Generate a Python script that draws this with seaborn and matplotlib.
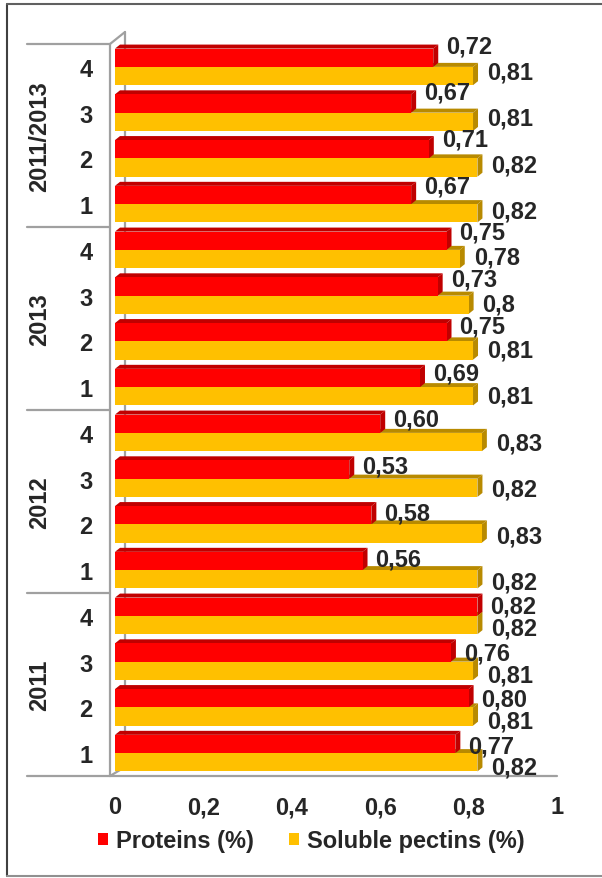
import numpy as np
import pandas as pd
import matplotlib
matplotlib.use("Agg")
import matplotlib.pyplot as plt
import matplotlib.transforms as mtransforms
from matplotlib.patches import Polygon, Patch
from matplotlib.lines import Line2D
import seaborn as sns

# data, bottom to top as in the chart
groups = ["2011", "2012", "2013", "2011/2013"]
samples = ["1", "2", "3", "4"]
proteins = [0.77, 0.80, 0.76, 0.82,
            0.56, 0.58, 0.53, 0.60,
            0.69, 0.75, 0.73, 0.75,
            0.67, 0.71, 0.67, 0.72]
pectins = [0.82, 0.81, 0.81, 0.82,
           0.82, 0.83, 0.82, 0.83,
           0.81, 0.81, 0.80, 0.78,
           0.82, 0.82, 0.81, 0.81]
protein_labels = ["0,77", "0,80", "0,76", "0,82",
                  "0,56", "0,58", "0,53", "0,60",
                  "0,69", "0,75", "0,73", "0,75",
                  "0,67", "0,71", "0,67", "0,72"]
pectin_labels = ["0,82", "0,81", "0,81", "0,82",
                 "0,82", "0,83", "0,82", "0,83",
                 "0,81", "0,81", "0,8", "0,78",
                 "0,82", "0,82", "0,81", "0,81"]
series = ["Proteins (%)", "Soluble pectins (%)"]
xticks = [0, 0.2, 0.4, 0.6, 0.8, 1]
xtick_labels = ["0", "0,2", "0,4", "0,6", "0,8", "1"]

red, red_dark = "#FF0000", "#C00000"
gold, gold_dark = "#FFC000", "#B88A00"
grey = "#A0A0A0"

sns.set_style("white")
plt.rcParams["font.family"] = ["Liberation Sans", "DejaVu Sans"]
plt.rcParams["font.weight"] = "bold"
FS = 17

rows = [f"{g}|{s}" for g in groups for s in samples]
df = pd.DataFrame({
    "row": rows * 2,
    "series": [series[0]] * 16 + [series[1]] * 16,
    "value": proteins + pectins,
})
order = rows[::-1]  # top to bottom

W, H = 602, 879
fig = plt.figure(figsize=(W / 100, H / 100), dpi=100)
L, R, T, B = 115, 557, 45, 777
ax = fig.add_axes([L / W, 1 - B / H, (R - L) / W, (B - T) / H])

sns.barplot(data=df, y="row", x="value", hue="series", order=order,
            hue_order=series, palette=[red, gold], orient="h", width=0.8,
            saturation=1, legend=False, ax=ax)
ax.set_xlim(0, 1)
ax.set_ylim(15.5, -0.5)

# 3d look: top and side faces
px_x = 1 / (R - L)
px_y = 16 / (B - T)
dx, dy = 5 * px_x, 4 * px_y
bars = list(ax.patches)
for p in bars:
    p.set_zorder(3)
    p.set_edgecolor("none")
    dark = red_dark if p.get_facecolor()[1] < 0.3 else gold_dark
    x0, y0, w, h = p.get_x(), p.get_y(), p.get_width(), p.get_height()
    top = Polygon([(x0, y0), (x0 + w, y0), (x0 + w + dx, y0 - dy), (x0 + dx, y0 - dy)],
                  closed=True, facecolor=dark, edgecolor="none", zorder=2, clip_on=False)
    side = Polygon([(x0 + w, y0), (x0 + w, y0 + h), (x0 + w + dx, y0 + h - dy), (x0 + w + dx, y0 - dy)],
                   closed=True, facecolor=dark, edgecolor="none", zorder=2.5, clip_on=False)
    ax.add_patch(top)
    ax.add_patch(side)

# data labels
for i in range(16):
    pos = 15 - i  # row position from top
    frac = pos / 15
    ax.annotate(protein_labels[i], (proteins[i], pos - 0.2), xytext=(13, 12 - 14 * frac),
                textcoords="offset pixels", ha="left", va="center", fontsize=FS,
                fontweight="bold", zorder=5, annotation_clip=False)
    ax.annotate(pectin_labels[i], (pectins[i], pos + 0.2), xytext=(14, 4 - 9 * frac),
                textcoords="offset pixels", ha="left", va="center", fontsize=FS,
                fontweight="bold", zorder=5, annotation_clip=False)

# ticks
ax.set_yticks(range(16))
ax.set_yticklabels([r.split("|")[1] for r in order], fontsize=FS, fontweight="bold")
ax.set_xticks(xticks)
ax.set_xticklabels(xtick_labels, fontsize=FS, fontweight="bold")
ax.tick_params(axis="y", length=0, pad=16)
ax.tick_params(axis="x", length=0, pad=14)
ax.set_xlabel("")
ax.set_ylabel("")
for s in ax.spines.values():
    s.set_visible(False)

# axis lines, back wall and group separators
ax_x = lambda px: (px - L) / (R - L)
ax_y = lambda py: (B - py) / (B - T)
xl, xw = ax_x(110), ax_x(125)
tA = ax.transAxes
ax.plot([xl, xl], [0, 1], color=grey, lw=1.6, transform=tA, clip_on=False)
ax.plot([xl, ax_x(557)], [0, 0], color=grey, lw=1.6, transform=tA, clip_on=False)
ax.plot([xw, xw], [ax_y(768), ax_y(33)], color=grey, lw=1.6, transform=tA, clip_on=False, zorder=1)
ax.plot([xl, xw], [1, ax_y(33)], color=grey, lw=1.6, transform=tA, clip_on=False, zorder=1)
ax.plot([xl, xw], [0, ax_y(768)], color=grey, lw=1.6, transform=tA, clip_on=False, zorder=1)

blend = mtransforms.blended_transform_factory(ax.transAxes, ax.transData)
for yb in [-0.5, 3.5, 7.5, 11.5, 15.5]:
    ax.plot([ax_x(27), xl], [yb, yb], color=grey, lw=1.6, transform=blend, clip_on=False)
for k, g in enumerate(groups[::-1]):
    ax.text(ax_x(40), 4 * k + 1.5, g, rotation=90, ha="center", va="center",
            fontsize=FS, fontweight="bold", transform=blend)

# legend
handles = [Patch(facecolor=red, edgecolor="none"), Patch(facecolor=gold, edgecolor="none")]
fig.legend(handles, series, loc="center", bbox_to_anchor=(311 / W, 1 - 842 / H), ncol=2,
           frameon=False, handlelength=0.45, handleheight=0.45, handletextpad=0.3,
           columnspacing=1.5, prop={"size": FS, "weight": "bold"})

# outer frame
fx = lambda px: px / W
fy = lambda py: 1 - py / H
fig.add_artist(Line2D([fx(7), fx(7)], [fy(5), fy(877)], color="#404040", lw=1.5, transform=fig.transFigure))
fig.add_artist(Line2D([fx(7), fx(602)], [fy(5), fy(5)], color="#606060", lw=1.5, transform=fig.transFigure))
fig.add_artist(Line2D([fx(7), fx(602)], [fy(877), fy(877)], color="#909090", lw=1.5, transform=fig.transFigure))

fig.savefig("out.png", dpi=100)
